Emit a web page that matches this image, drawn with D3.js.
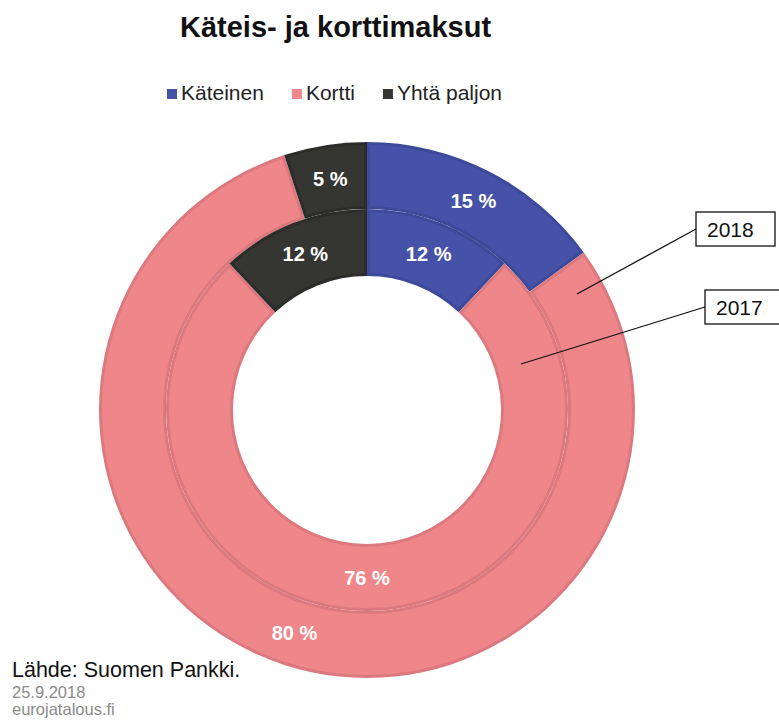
<!DOCTYPE html>
<html>
<head>
<meta charset="utf-8">
<script src="https://cdn.jsdelivr.net/npm/d3@7"></script>
<style>
    body { margin: 0; background: #ffffff; }
    text { font-family: "Liberation Sans", Arial, sans-serif; }
</style>
</head>
<body>
<svg id="chart" width="779" height="720"></svg>
<script>
/* ======================== DATA ========================= */
/* ======================================================= */

const categories   = ["Käteinen", "Kortti", "Yhtä paljon"];
const values2018   = [15, 80, 5];
const values2017   = [12, 76, 12];
const years        = ["2018", "2017"];
const fillColors   = ["#4552a8", "#ee868a", "#353532"];
const edgeColors   = ["#3d4999", "#dc797f", "#2c2c2a"];

const titleText    = "Käteis- ja korttimaksut";
const sourceText   = "Lähde: Suomen Pankki.";
const dateText     = "25.9.2018";
const siteText     = "eurojatalous.fi";

/* ======================= LAYOUT ======================== */
/* ======================================================= */

const center  = { x: 367, y: 410 };
const radii   = { hole: 134, mid: 201, outer: 268 };
const bevel   = 3;

const svg = d3.select("#chart");

/* =================== PUBLIC FUNCTIONS ================== */
/* ======================================================= */

function drawTitle() {
    svg.append("text")
       .attr("x", 180)
       .attr("y", 37)
       .attr("font-size", 29)
       .attr("font-weight", "bold")
       .attr("fill", "#111")
       .text(titleText);
}

function drawLegend() {
    let legend = svg.append("g")
                    .attr("transform", "translate(167, 0)");
    let xPos = 0;
    categories.forEach((c, i) => {
        legend.append("rect")
              .attr("x", xPos)
              .attr("y", 89)
              .attr("width", 10)
              .attr("height", 10)
              .attr("fill", fillColors[i]);
        let t = legend.append("text")
                      .attr("x", xPos + 14)
                      .attr("y", 100)
                      .attr("font-size", 21)
                      .attr("fill", "#222")
                      .text(c);
        xPos += 14 + t.node().getComputedTextLength() + 28;
    });
}

function drawRing(values, inner, outer) {
    let pie = d3.pie()
                .sort(null)
                .value(d => d);
    let arcs = pie(values);

    let edgeArc = d3.arc()
                    .innerRadius(inner)
                    .outerRadius(outer);
    let faceArc = d3.arc()
                    .innerRadius(inner + bevel)
                    .outerRadius(outer - bevel)
                    .padRadius(outer)
                    .padAngle(2 * bevel / outer);
    let labelArc = d3.arc()
                     .innerRadius(inner)
                     .outerRadius(outer);

    let ring = svg.append("g")
                  .attr("transform", `translate(${center.x}, ${center.y})`);

    ring.selectAll("path.edge")
        .data(arcs)
        .join("path")
        .attr("class", "edge")
        .attr("d", edgeArc)
        .attr("fill", (d, i) => edgeColors[i]);

    ring.selectAll("path.face")
        .data(arcs)
        .join("path")
        .attr("class", "face")
        .attr("d", faceArc)
        .attr("fill", (d, i) => fillColors[i]);

    ring.selectAll("text")
        .data(arcs)
        .join("text")
        .attr("x", d => labelArc.centroid(d)[0])
        .attr("y", d => labelArc.centroid(d)[1])
        .attr("dy", "0.36em")
        .attr("text-anchor", "middle")
        .attr("font-size", 20)
        .attr("font-weight", "bold")
        .attr("fill", "#ffffff")
        .text(d => d.data + " %");
}

function drawCallouts() {
    // leader lines from the Kortti slices to the year boxes
    let callouts = [
        { label: years[0], from: [577, 294], box: [696, 212] },
        { label: years[1], from: [521, 364], box: [705, 290] }
    ];
    callouts.forEach(c => {
        svg.append("line")
           .attr("x1", c.from[0])
           .attr("y1", c.from[1])
           .attr("x2", c.box[0])
           .attr("y2", c.box[1] + 17)
           .attr("stroke", "#111")
           .attr("stroke-width", 1.3);
        svg.append("rect")
           .attr("x", c.box[0])
           .attr("y", c.box[1])
           .attr("width", 79)
           .attr("height", 34)
           .attr("fill", "#ffffff")
           .attr("stroke", "#111")
           .attr("stroke-width", 1.3);
        svg.append("text")
           .attr("x", c.box[0] + 11)
           .attr("y", c.box[1] + 25)
           .attr("font-size", 21)
           .attr("fill", "#111")
           .text(c.label);
    });
}

function drawFooter() {
    svg.append("text")
       .attr("x", 12)
       .attr("y", 677)
       .attr("font-size", 21.5)
       .attr("fill", "#111")
       .text(sourceText);
    svg.append("text")
       .attr("x", 12)
       .attr("y", 698)
       .attr("font-size", 16.5)
       .attr("fill", "#8a8a8a")
       .text(dateText);
    svg.append("text")
       .attr("x", 12)
       .attr("y", 715)
       .attr("font-size", 16.5)
       .attr("fill", "#8a8a8a")
       .text(siteText);
}

/* ======================================================= */
/* =============== END OF PUBLIC FUNCTIONS =============== */

drawTitle();
drawLegend();
drawRing(values2018, radii.mid, radii.outer);
drawRing(values2017, radii.hole, radii.mid);
drawCallouts();
drawFooter();
</script>
</body>
</html>
